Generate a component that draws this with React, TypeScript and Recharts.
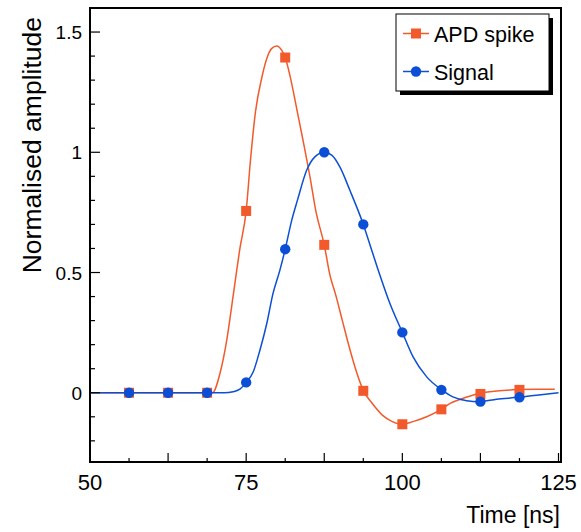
import { ComposedChart, Line, Scatter, XAxis, YAxis, ReferenceArea } from 'recharts';

// Samples every 6.25 ns
const sampleTimes = [56.25, 62.5, 68.75, 75, 81.25, 87.5, 93.75, 100, 106.25, 112.5, 118.75];
const apdSamples = [0, 0, 0, 0.756, 1.394, 0.615, 0.008, -0.131, -0.069, -0.005, 0.012];
const signalSamples = [0, 0, 0, 0.043, 0.597, 1.0, 0.7, 0.251, 0.012, -0.037, -0.019];

// Fitted curves
const apdCurveT = [50, 69.6, 70.8, 71.9, 72.9, 74.0, 75.0, 75.7, 76.5, 77.5, 78.3, 79.1, 79.9, 80.7, 81.25, 82.0, 83.1, 84.1, 85.2, 86.2, 87.5, 88.4, 89.3, 90.4, 91.5, 92.5, 93.75, 95.2, 96.8, 98.4, 99.9, 101.7, 103.9, 106.2, 107.6, 109.2, 112.3, 115.1, 118.5, 121.5, 124.4];
const apdCurveV = [0, 0, 0.08, 0.22, 0.4, 0.6, 0.756, 0.97, 1.17, 1.31, 1.39, 1.432, 1.442, 1.424, 1.394, 1.32, 1.18, 1.05, 0.9, 0.75, 0.615, 0.49, 0.41, 0.3, 0.19, 0.1, 0.01, -0.045, -0.093, -0.12, -0.131, -0.12, -0.1, -0.069, -0.045, -0.028, -0.003, 0.007, 0.013, 0.015, 0.015];
const signalCurveT = [50, 71.5, 72.9, 74.0, 75.0, 76.1, 77.2, 78.3, 79.3, 80.4, 81.25, 82.3, 83.2, 84.7, 86.0, 87.5, 88.7, 90.0, 91.6, 93.75, 95.1, 96.4, 98.0, 100, 101.7, 103.9, 106.25, 108.1, 110.3, 112.3, 115.1, 118.5, 121.5, 125];
const signalCurveV = [0, 0, 0.004, 0.015, 0.043, 0.085, 0.177, 0.288, 0.413, 0.51, 0.597, 0.718, 0.8, 0.926, 0.981, 1.0, 0.988, 0.939, 0.842, 0.7, 0.593, 0.49, 0.372, 0.251, 0.15, 0.066, 0.013, -0.017, -0.033, -0.037, -0.027, -0.019, -0.01, 0];

const xTicks = [50, 56.25, 62.5, 68.75, 75, 81.25, 87.5, 93.75, 100, 106.25, 112.5, 118.75, 125];
const xTickLabels = [50, 75, 100, 125];
const yTicks = [-0.2, -0.1, 0, 0.1, 0.2, 0.3, 0.4, 0.5, 0.6, 0.7, 0.8, 0.9, 1, 1.1, 1.2, 1.3, 1.4, 1.5];
const yTickLabels = [0, 0.5, 1, 1.5];

const ORANGE = '#f25a2b';
const BLUE = '#0a4fd6';
const FONT = '"Liberation Sans", Arial, Helvetica, sans-serif';

const apdCurve = apdCurveT.map((t, i) => ({ t, v: apdCurveV[i] }));
const signalCurve = signalCurveT.map((t, i) => ({ t, v: signalCurveV[i] }));
const apdPoints = sampleTimes.map((t, i) => ({ t, v: apdSamples[i] }));
const signalPoints = sampleTimes.map((t, i) => ({ t, v: signalSamples[i] }));

const X_DOMAIN: [number, number] = [50, 125.4];
const Y_DOMAIN: [number, number] = [-0.288, 1.6];

const Square = (p: any) => <rect x={p.cx - 5} y={p.cy - 5} width={10} height={10} fill={ORANGE} />;
const Dot = (p: any) => <circle cx={p.cx} cy={p.cy} r={5.2} fill={BLUE} />;

// ROOT style: ticks point into the frame
const xTickLen = (v: number) => (v % 12.5 === 0 ? 9 : 4);
const yTickLen = (v: number) => (yTickLabels.includes(v) ? 10 : 5);

const BottomTick = (p: any) => {
  const v = p.payload.value;
  return (
    <g>
      <line x1={p.x} x2={p.x} y1={p.y} y2={p.y - xTickLen(v)} stroke="#000" strokeWidth={1.2} />
      {xTickLabels.includes(v) && (
        <text x={p.x} y={p.y + 28} textAnchor="middle" fontSize={22} fontFamily={FONT} fill="#000">{v}</text>
      )}
    </g>
  );
};
const TopTick = (p: any) => {
  const v = p.payload.value;
  return <line x1={p.x} x2={p.x} y1={p.y} y2={p.y + xTickLen(v)} stroke="#000" strokeWidth={1.2} />;
};
const LeftTick = (p: any) => {
  const v = p.payload.value;
  return (
    <g>
      <line x1={p.x} x2={p.x + yTickLen(v)} y1={p.y} y2={p.y} stroke="#000" strokeWidth={1.2} />
      {yTickLabels.includes(v) && (
        <text x={p.x - 8} y={p.y + 7} textAnchor="end" fontSize={19} fontFamily={FONT} fill="#000">{v}</text>
      )}
    </g>
  );
};
const RightTick = (p: any) => {
  const v = p.payload.value;
  return <line x1={p.x} x2={p.x - yTickLen(v)} y1={p.y} y2={p.y} stroke="#000" strokeWidth={1.2} />;
};

const axisLine = { stroke: '#000', strokeWidth: 2 };

export default function App() {
  return (
    <div style={{ position: 'absolute', left: 0, top: 0, width: 581, height: 532, background: '#fff' }}>
      <ComposedChart width={581} height={532} margin={{ top: 8, right: 20, bottom: 0, left: 0 }}>
        <XAxis
          dataKey="t" type="number" domain={X_DOMAIN} allowDataOverflow ticks={xTicks} interval={0}
          height={70} tickSize={0} tickMargin={0} tickLine={false} axisLine={axisLine} tick={BottomTick}
        />
        <XAxis
          xAxisId="top" orientation="top" dataKey="t" type="number" domain={X_DOMAIN} allowDataOverflow
          ticks={xTicks} interval={0} height={0} tickSize={0} tickMargin={0} tickLine={false}
          axisLine={axisLine} tick={TopTick}
        />
        <YAxis
          dataKey="v" type="number" domain={Y_DOMAIN} allowDataOverflow ticks={yTicks} interval={0}
          width={90} tickSize={0} tickMargin={0} tickLine={false} axisLine={axisLine} tick={LeftTick}
        />
        <YAxis
          yAxisId="right" orientation="right" dataKey="v" type="number" domain={Y_DOMAIN} allowDataOverflow
          ticks={yTicks} interval={0} width={0} tickSize={0} tickMargin={0} tickLine={false}
          axisLine={axisLine} tick={RightTick}
        />
        {/* frame */}
        <ReferenceArea
          x1={X_DOMAIN[0]} x2={X_DOMAIN[1]} y1={Y_DOMAIN[0]} y2={Y_DOMAIN[1]}
          fill="none" stroke="#000" strokeWidth={2} fillOpacity={0} ifOverflow="visible"
        />
        <Line data={apdCurve} dataKey="v" type="monotone" stroke={ORANGE} strokeWidth={1.5} dot={false} isAnimationActive={false} />
        <Scatter data={apdPoints} dataKey="v" shape={Square} isAnimationActive={false} />
        <Line data={signalCurve} dataKey="v" type="monotone" stroke={BLUE} strokeWidth={1.5} dot={false} isAnimationActive={false} />
        <Scatter data={signalPoints} dataKey="v" shape={Dot} isAnimationActive={false} />
      </ComposedChart>
      <svg width={581} height={532} style={{ position: 'absolute', left: 0, top: 0, pointerEvents: 'none' }}>
        <text x={560} y={523} textAnchor="end" fontSize={23} fontFamily={FONT} fill="#000">Time [ns]</text>
        <text transform="translate(41,17) rotate(-90)" textAnchor="end" fontSize={26.5} fontFamily={FONT} fill="#000">
          Normalised amplitude
        </text>
        {/* legend */}
        <rect x={400} y={18} width={153} height={77} fill="#000" />
        <rect x={396} y={14} width={153} height={77} fill="#fff" stroke="#000" strokeWidth={1} />
        <line x1={403} x2={429} y1={33.5} y2={33.5} stroke={ORANGE} strokeWidth={1.5} />
        <rect x={411} y={28.5} width={10} height={10} fill={ORANGE} />
        <text x={434} y={41.5} fontSize={21.5} fontFamily={FONT} fill="#000">APD spike</text>
        <line x1={403} x2={429} y1={71.5} y2={71.5} stroke={BLUE} strokeWidth={1.5} />
        <circle cx={416} cy={71.5} r={5.2} fill={BLUE} />
        <text x={434} y={79.5} fontSize={21.5} fontFamily={FONT} fill="#000">Signal</text>
      </svg>
    </div>
  );
}
